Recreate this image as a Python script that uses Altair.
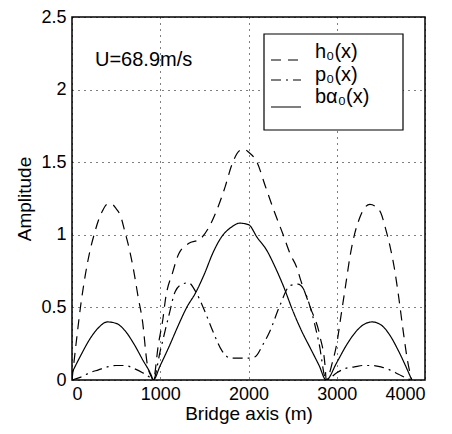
import altair as alt
import pandas as pd

# ---- data ----
series_names = ["h₀(x)", "p₀(x)", "bα₀(x)"]
annotation = "U=68.9m/s"

h_x = [0, 50, 100, 150, 200, 250, 300, 350, 400, 450, 500, 550, 600, 650, 700, 750, 800, 850, 900, 920,
       980, 1030, 1060, 1140, 1210, 1320, 1450, 1550, 1660, 1735, 1810, 1900, 1950, 2000, 2096, 2188,
       2280, 2393, 2471, 2550, 2585, 2700, 2810, 2870, 2880,
       2950, 3000, 3050, 3100, 3150, 3200, 3250, 3300, 3375, 3450, 3500, 3550, 3600, 3650, 3700, 3750,
       3800, 3850]
h_y = [0, 0.27, 0.52, 0.72, 0.88, 1.0, 1.1, 1.17, 1.21, 1.21, 1.18, 1.13, 1.02, 0.9, 0.75, 0.57, 0.4,
       0.12, 0.02, 0,
       0.25, 0.42, 0.56, 0.74, 0.87, 0.94, 0.97, 1.05, 1.2, 1.33, 1.48, 1.58, 1.59, 1.57, 1.5, 1.34,
       1.18, 1.0, 0.87, 0.77, 0.70, 0.5, 0.3, 0.08, 0,
       0.12, 0.25, 0.45, 0.65, 0.85, 1.0, 1.1, 1.17, 1.21, 1.19, 1.15, 1.05, 0.93, 0.78, 0.58, 0.35,
       0.14, 0]

p_x = [0, 100, 200, 300, 400, 500, 600, 700, 800, 900, 920,
       1000, 1100, 1170, 1250, 1320, 1400, 1500, 1600, 1700, 1800, 1900, 2000, 2075, 2160, 2245, 2360,
       2470, 2560, 2620, 2700, 2800, 2880,
       3000, 3100, 3200, 3300, 3400, 3500, 3600, 3700, 3800, 3850]
p_y = [0, 0.02, 0.05, 0.07, 0.09, 0.1, 0.1, 0.08, 0.05, 0.01, 0,
       0.2, 0.45, 0.61, 0.66, 0.67, 0.61, 0.48, 0.33, 0.2, 0.15, 0.15, 0.15, 0.16, 0.24, 0.34, 0.52,
       0.65, 0.66, 0.63, 0.5, 0.25, 0,
       0.05, 0.08, 0.09, 0.1, 0.1, 0.09, 0.07, 0.04, 0.01, 0]

b_x = [0, 100, 200, 300, 400, 500, 600, 700, 800, 900, 920,
       1000, 1100, 1200, 1300, 1400, 1500, 1600, 1700, 1800, 1900, 2000, 2100, 2200, 2300, 2400, 2500,
       2600, 2700, 2800, 2880,
       3000, 3100, 3200, 3300, 3400, 3500, 3600, 3700, 3800, 3850]
b_y = [0.05, 0.17, 0.28, 0.36, 0.40, 0.39, 0.34, 0.25, 0.14, 0.03, 0,
       0.1, 0.23, 0.37, 0.5, 0.6, 0.73, 0.88, 0.99, 1.05, 1.08, 1.07, 0.98, 0.9, 0.78, 0.64, 0.48,
       0.34, 0.22, 0.1, 0,
       0.12, 0.23, 0.32, 0.38, 0.40, 0.38, 0.31, 0.2, 0.07, 0]

x_ticks = [0, 1000, 2000, 3000, 4000]
y_ticks = [0, 0.5, 1, 1.5, 2, 2.5]

# ---- build table ----
frames = []
for name, xs, ys in zip(series_names, [h_x, p_x, b_x], [h_y, p_y, b_y]):
    frames.append(pd.DataFrame({"x": xs, "y": ys, "series": name}))
df = pd.concat(frames, ignore_index=True)

FONT = "Liberation Sans"
dashes = [[10, 7], [10, 5, 2, 5], [1, 0]]

lines = alt.Chart(df).mark_line(color="black", strokeWidth=1.2, interpolate="monotone", clip=True).encode(
    x=alt.X("x:Q", scale=alt.Scale(domain=[0, 4000], nice=False),
            axis=alt.Axis(values=x_ticks, labelExpr="datum.value", title="Bridge axis (m)",
                          labelPadding=5, titlePadding=1)),
    y=alt.Y("y:Q", scale=alt.Scale(domain=[0, 2.5], nice=False),
            axis=alt.Axis(values=y_ticks, labelExpr="datum.value", title="Amplitude",
                          labelPadding=6, titlePadding=6)),
    strokeDash=alt.StrokeDash("series:N", scale=alt.Scale(domain=series_names, range=dashes), legend=None),
    detail="series:N",
)

one = pd.DataFrame({"a": [0]})

legend_box = alt.Chart(one).mark_rect(fill="white", stroke="black", strokeWidth=1.2).encode(
    x=alt.value(192), x2=alt.value(331), y=alt.value(17), y2=alt.value(113)
)

row_line_y = [43, 63, 90]
row_text_y = [35, 58, 80]
legend_layers = []
for i, name in enumerate(series_names):
    legend_layers.append(
        alt.Chart(one).mark_rule(color="black", strokeWidth=1.2, strokeDash=dashes[i]).encode(
            x=alt.value(199), x2=alt.value(229), y=alt.value(row_line_y[i])
        )
    )
    legend_layers.append(
        alt.Chart(one).mark_text(text=name, align="left", baseline="middle", fontSize=20,
                                 font=FONT, color="black").encode(
            x=alt.value(243), y=alt.value(row_text_y[i])
        )
    )

note = alt.Chart(one).mark_text(text=annotation, align="left", baseline="middle", fontSize=20,
                                font=FONT, color="black").encode(x=alt.value(23), y=alt.value(43))

chart = alt.layer(lines, legend_box, *legend_layers, note).properties(
    width=353, height=363,
    autosize=alt.AutoSizeParams(type="none"),
    padding={"left": 64, "top": 9, "right": 19, "bottom": 44},
    background="white",
).configure_view(
    stroke="black", strokeWidth=1.5
).configure_axis(
    labelFont=FONT, titleFont=FONT, labelFontSize=18, titleFontSize=19,
    titleFontWeight="normal", labelColor="black", titleColor="black",
    domain=False, ticks=False, grid=True, gridColor="black", gridDash=[1, 5],
    gridWidth=1, gridOpacity=1,
)

chart.save("out.html", embed_options={"renderer": "svg", "actions": False})
